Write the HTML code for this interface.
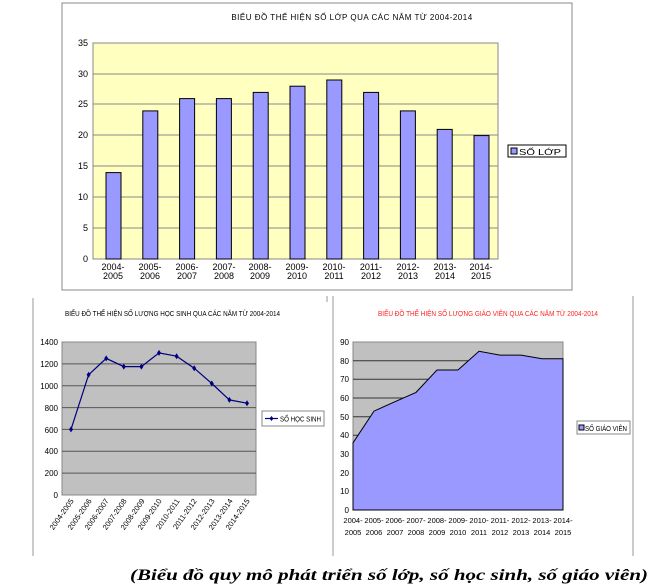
<!DOCTYPE html>
<html><head><meta charset="utf-8"><style>
body{margin:0;background:#fff;width:663px;height:586px;overflow:hidden}
svg{display:block;font-family:"Liberation Sans",sans-serif}
</style></head><body>
<svg width="663" height="586" viewBox="0 0 663 586">
<!-- TOP CHART -->
<rect x="62" y="3" width="510" height="287" fill="#fff" stroke="#888" stroke-width="1"/>
<text x="352" y="20" font-size="8" text-anchor="middle" fill="#000" letter-spacing="0.5">BIỂU ĐỒ THỂ HIỆN SỐ LỚP QUA CÁC NĂM TỪ 2004-2014</text>
<rect x="93" y="43" width="405" height="216" fill="#ffffc0" stroke="#888"/>
<g stroke="#888" stroke-width="1">
<line x1="93" y1="74" x2="498" y2="74"/><line x1="93" y1="104" x2="498" y2="104"/><line x1="93" y1="135" x2="498" y2="135"/><line x1="93" y1="166" x2="498" y2="166"/><line x1="93" y1="197" x2="498" y2="197"/><line x1="93" y1="228" x2="498" y2="228"/>
</g>
<g font-size="9" text-anchor="end" fill="#000">
<text x="88" y="46">35</text><text x="88" y="77">30</text><text x="88" y="107">25</text><text x="88" y="138">20</text><text x="88" y="169">15</text><text x="88" y="200">10</text><text x="88" y="231">5</text><text x="88" y="262">0</text>
</g>
<g fill="#9999ff" stroke="#000" stroke-width="1">
<rect x="106" y="172.6" width="15" height="86.4"/>
<rect x="142.8" y="110.9" width="15" height="148.1"/>
<rect x="179.6" y="98.6" width="15" height="160.4"/>
<rect x="216.4" y="98.6" width="15" height="160.4"/>
<rect x="253.2" y="92.4" width="15" height="166.6"/>
<rect x="290" y="86.2" width="15" height="172.8"/>
<rect x="326.8" y="80" width="15" height="179"/>
<rect x="363.6" y="92.4" width="15" height="166.6"/>
<rect x="400.4" y="110.9" width="15" height="148.1"/>
<rect x="437.2" y="129.4" width="15" height="129.6"/>
<rect x="474" y="135.6" width="15" height="123.4"/>
</g>
<g font-size="9" text-anchor="middle" fill="#000">
<text x="113" y="270">2004-</text><text x="113" y="279">2005</text>
<text x="150" y="270">2005-</text><text x="150" y="279">2006</text>
<text x="187" y="270">2006-</text><text x="187" y="279">2007</text>
<text x="224" y="270">2007-</text><text x="224" y="279">2008</text>
<text x="260" y="270">2008-</text><text x="260" y="279">2009</text>
<text x="297" y="270">2009-</text><text x="297" y="279">2010</text>
<text x="334" y="270">2010-</text><text x="334" y="279">2011</text>
<text x="371" y="270">2011-</text><text x="371" y="279">2012</text>
<text x="408" y="270">2012-</text><text x="408" y="279">2013</text>
<text x="445" y="270">2013-</text><text x="445" y="279">2014</text>
<text x="481" y="270">2014-</text><text x="481" y="279">2015</text>
</g>
<rect x="508" y="145" width="58" height="12" fill="#fff" stroke="#000"/>
<rect x="511" y="148" width="6" height="6" fill="#9999ff" stroke="#000"/>
<text x="519" y="155" font-size="8" textLength="42" lengthAdjust="spacingAndGlyphs">SỐ LỚP</text>

<!-- BOTTOM LEFT -->
<line x1="33" y1="298" x2="33" y2="556" stroke="#999"/>
<line x1="327" y1="296" x2="327" y2="302" stroke="#999"/>
<text x="65" y="316" font-size="7.2" fill="#000" textLength="215" lengthAdjust="spacingAndGlyphs">BIỂU ĐỒ THỂ HIỆN SỐ LƯỢNG HỌC SINH QUA CÁC NĂM TỪ 2004-2014</text>
<rect x="62" y="342" width="194" height="153" fill="#c0c0c0" stroke="#888"/>
<g stroke="#555">
<line x1="62" y1="363.9" x2="256" y2="363.9"/><line x1="62" y1="385.7" x2="256" y2="385.7"/><line x1="62" y1="407.6" x2="256" y2="407.6"/><line x1="62" y1="429.4" x2="256" y2="429.4"/><line x1="62" y1="451.3" x2="256" y2="451.3"/><line x1="62" y1="473.1" x2="256" y2="473.1"/>
</g>
<g font-size="8" text-anchor="end">
<text x="58" y="345">1400</text><text x="58" y="367">1200</text><text x="58" y="389">1000</text><text x="58" y="411">800</text><text x="58" y="433">600</text><text x="58" y="454">400</text><text x="58" y="476">200</text><text x="58" y="498">0</text>
</g>
<polyline fill="none" stroke="#000080" stroke-width="1.2" points="71,429.4 88.6,374.8 106.2,358.4 123.8,366.6 141.4,366.6 159,352.9 176.6,356.2 194.2,368.2 211.8,383.5 229.4,399.9 247,403.2"/>
<g fill="#000080">
<path d="M71,426.4l2,3-2,3-2-3z M88.6,371.8l2,3-2,3-2-3z M106.2,355.4l2,3-2,3-2-3z M123.8,363.6l2,3-2,3-2-3z M141.4,363.6l2,3-2,3-2-3z M159,349.9l2,3-2,3-2-3z M176.6,353.2l2,3-2,3-2-3z M194.2,365.2l2,3-2,3-2-3z M211.8,380.5l2,3-2,3-2-3z M229.4,396.9l2,3-2,3-2-3z M247,400.2l2,3-2,3-2-3z"/>
</g>
<g font-size="7.5" text-anchor="end">
<text transform="translate(74,501) rotate(-55)">2004-2005</text>
<text transform="translate(92,501) rotate(-55)">2005-2006</text>
<text transform="translate(109,501) rotate(-55)">2006-2007</text>
<text transform="translate(127,501) rotate(-55)">2007-2008</text>
<text transform="translate(145,501) rotate(-55)">2008-2009</text>
<text transform="translate(162,501) rotate(-55)">2009-2010</text>
<text transform="translate(180,501) rotate(-55)">2010-2011</text>
<text transform="translate(197,501) rotate(-55)">2011-2012</text>
<text transform="translate(215,501) rotate(-55)">2012-2013</text>
<text transform="translate(233,501) rotate(-55)">2013-2014</text>
<text transform="translate(250,501) rotate(-55)">2014-2015</text>
</g>
<rect x="262" y="411" width="62" height="15" fill="#fff" stroke="#888"/>
<line x1="265" y1="418.5" x2="278" y2="418.5" stroke="#000080" stroke-width="1.2"/>
<path d="M271.5,416l2,2.5-2,2.5-2-2.5z" fill="#000080"/>
<text x="280" y="421.5" font-size="7.2" textLength="41" lengthAdjust="spacingAndGlyphs">SỐ HỌC SINH</text>

<!-- BOTTOM RIGHT -->
<line x1="333" y1="296" x2="333" y2="556" stroke="#999"/>
<line x1="633" y1="296" x2="633" y2="556" stroke="#999"/>
<text x="488" y="316" font-size="7.2" fill="#ff2020" text-anchor="middle" textLength="220" lengthAdjust="spacingAndGlyphs">BIỂU ĐỒ THỂ HIỆN SỐ LƯỢNG GIÁO VIÊN QUA CÁC NĂM TỪ 2004-2014</text>
<rect x="353" y="342" width="210" height="168" fill="#c0c0c0" stroke="#888"/>
<g stroke="#333">
<line x1="353" y1="360.7" x2="563" y2="360.7"/><line x1="353" y1="379.3" x2="563" y2="379.3"/><line x1="353" y1="398" x2="563" y2="398"/><line x1="353" y1="416.7" x2="563" y2="416.7"/><line x1="353" y1="435.3" x2="563" y2="435.3"/><line x1="353" y1="454" x2="563" y2="454"/><line x1="353" y1="472.7" x2="563" y2="472.7"/><line x1="353" y1="491.3" x2="563" y2="491.3"/>
</g>
<polygon fill="#9999ff" stroke="#000" stroke-width="1" points="353,510 353,442.8 374,411.1 395,401.7 416,392.4 437,370 458,370 479,351.3 500,355.1 521,355.1 542,358.8 563,358.8 563,510"/>
<g font-size="8" text-anchor="end">
<text x="349" y="345">90</text><text x="349" y="364">80</text><text x="349" y="382">70</text><text x="349" y="401">60</text><text x="349" y="420">50</text><text x="349" y="438">40</text><text x="349" y="457">30</text><text x="349" y="476">20</text><text x="349" y="494">10</text><text x="349" y="513">0</text>
</g>
<g font-size="7.5" text-anchor="middle">
<text x="353" y="523">2004-</text><text x="353" y="535">2005</text>
<text x="374" y="523">2005-</text><text x="374" y="535">2006</text>
<text x="395" y="523">2006-</text><text x="395" y="535">2007</text>
<text x="416" y="523">2007-</text><text x="416" y="535">2008</text>
<text x="437" y="523">2008-</text><text x="437" y="535">2009</text>
<text x="458" y="523">2009-</text><text x="458" y="535">2010</text>
<text x="479" y="523">2010-</text><text x="479" y="535">2011</text>
<text x="500" y="523">2011-</text><text x="500" y="535">2012</text>
<text x="521" y="523">2012-</text><text x="521" y="535">2013</text>
<text x="542" y="523">2013-</text><text x="542" y="535">2014</text>
<text x="563" y="523">2014-</text><text x="563" y="535">2015</text>
</g>
<rect x="577" y="421" width="53" height="13" fill="#fff" stroke="#888"/>
<rect x="579" y="425" width="5" height="5" fill="#9999ff" stroke="#000"/>
<text x="585" y="431" font-size="7" textLength="42" lengthAdjust="spacingAndGlyphs">SỐ GIÁO VIÊN</text>

<text x="130" y="580" font-family="Liberation Serif,serif" font-size="15.5" font-weight="bold" font-style="italic" textLength="518" lengthAdjust="spacingAndGlyphs">(Biểu đồ quy mô phát triển số lớp, số học sinh, số giáo viên)</text>
</svg>
</body></html>
